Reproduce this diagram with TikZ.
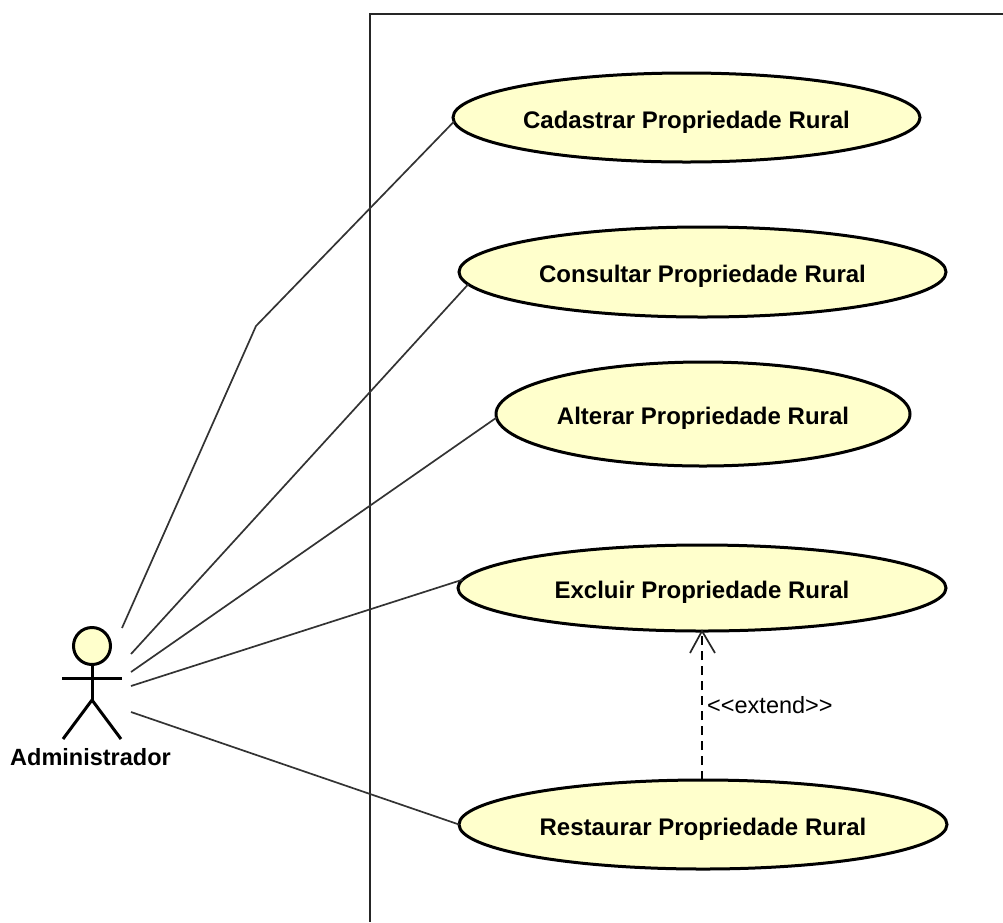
\documentclass[tikz,border=0pt]{standalone}
\usepackage{fontspec}
\setmainfont{Liberation Sans}
\usetikzlibrary{shapes.geometric,arrows.meta}
\definecolor{ucfill}{HTML}{FFFFCC}
\newcommand{\uctext}[1]{\raisebox{-10.5pt}[0pt][0pt]{#1}}
\tikzset{
  usecase/.style={ellipse,draw=black,line width=3pt,fill=ucfill,inner sep=0pt,outer sep=0pt,font=\fontsize{24}{26}\selectfont\bfseries},
  assoc/.style={draw=black!80,line width=1.7pt},
  actorline/.style={draw=black,line width=3pt},
  sysbox/.style={draw=black!85,line width=1.8pt},
  extendline/.style={draw=black,line width=1.7pt,dash pattern=on 9pt off 6pt},
  openhead/.style={draw=black!85,line width=1.7pt}
}
\begin{document}
\begin{tikzpicture}[x=1pt,y=-1pt]
\useasboundingbox (0,0) rectangle (1003,922);
\draw[sysbox] (1003,14) -- (370,14) -- (370,922);
% use cases
\node[usecase,minimum width=467pt,minimum height=89pt] (cad) at (686.5,117.5) {\uctext{Cadastrar Propriedade Rural}};
\node[usecase,minimum width=487pt,minimum height=90pt] (con) at (702.5,272) {\uctext{Consultar Propriedade Rural}};
\node[usecase,minimum width=414pt,minimum height=104pt] (alt) at (703,414) {\uctext{Alterar Propriedade Rural}};
\node[usecase,minimum width=488pt,minimum height=86pt] (exc) at (702,588) {\uctext{Excluir Propriedade Rural}};
\node[usecase,minimum width=488pt,minimum height=89pt] (res) at (703,824.5) {\uctext{Restaurar Propriedade Rural}};
% actor
\node[circle,draw=black,line width=3pt,fill=ucfill,minimum size=37pt,inner sep=0pt,outer sep=0pt] (head) at (92,646) {};
\coordinate (hip) at (92,700);
\coordinate (armL) at (62,678);
\coordinate (armR) at (122,678);
\coordinate (legL) at (63,739);
\coordinate (legR) at (121,739);
\draw[actorline] (head.south) -- (hip);
\draw[actorline] (armL) -- (armR);
\draw[actorline] (legL) -- (hip) -- (legR);
\node[font=\fontsize{23.5}{25}\selectfont\bfseries,inner sep=0pt] (adm) at (90.5,757) {Administrador};
% association free ends
\coordinate (s1) at (122,628);
\coordinate (bend) at (256,326);
\coordinate (s2) at (131,654);
\coordinate (s3) at (131,672);
\coordinate (s4) at (131,686);
\coordinate (s5) at (131,712);
\draw[assoc] (s1) -- (bend) -- (cad.181.8);
\draw[assoc] (s2) -- (con.183.3);
\draw[assoc] (s3) -- (alt.181.1);
\draw[assoc] (s4) -- (exc.178.8);
\draw[assoc] (s5) -- (res.west);
% extend
\draw[extendline] (res.north -| exc.south) -- (exc.south);
\coordinate (hl) at (690,653);
\coordinate (hr) at (715,653);
\draw[openhead] (hl) -- (exc.south) -- (hr);
\node[anchor=west,inner sep=0pt,font=\fontsize{23.5}{25}\selectfont] (ext) at (707,705) {<{}<extend>{}>};
\end{tikzpicture}
\end{document}
